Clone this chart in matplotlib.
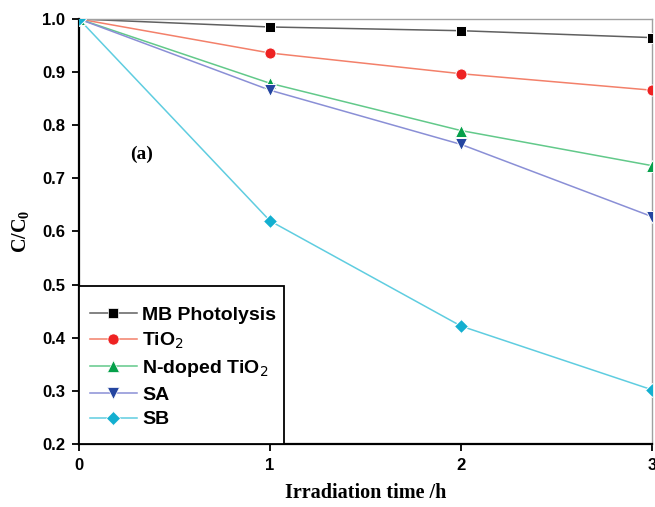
import matplotlib
matplotlib.use("Agg")
import matplotlib.pyplot as plt
from matplotlib.lines import Line2D
from matplotlib.patches import Rectangle

# Irradiation time (h) and normalised concentration C/C0
time_h = [0, 1, 2, 3]
mb_photolysis = [1.0, 0.985, 0.978, 0.965]
tio2 = [1.0, 0.936, 0.897, 0.866]
n_doped_tio2 = [1.0, 0.879, 0.790, 0.724]
sa = [1.0, 0.866, 0.764, 0.628]
sb = [1.0, 0.620, 0.422, 0.302]

x_ticks = [0, 1, 2, 3]
y_ticks = [0.2, 0.3, 0.4, 0.5, 0.6, 0.7, 0.8, 0.9, 1.0]

series = [
    ("MB Photolysis", mb_photolysis, "#606060", "#000000", "s", 7),
    ("TiO$_2$", tio2, "#f3806a", "#ee2222", "o", 8),
    ("N-doped TiO$_2$", n_doped_tio2, "#62c98a", "#05a04a", "^", 8.5),
    ("SA", sa, "#8a8fd6", "#2445a0", "v", 8.5),
    ("SB", sb, "#5fcde0", "#13afd0", "D", 7),
]

fig = plt.figure(figsize=(6.55, 5.07), dpi=100)
ax = fig.add_axes([0.1206, 0.1243, 0.8748, 0.8382])

handles = []
for label, vals, lc, mc, mk, ms in series:
    ax.plot(time_h, vals, color=lc, lw=1.1, zorder=2)
    ax.plot(time_h, vals, ls="none", marker=mk, ms=ms, color=mc,
            markeredgecolor="white", markeredgewidth=0.7, zorder=3)
    handles.append(Line2D([0], [0], color=lc, lw=1.1, marker=mk, ms=ms,
                          markerfacecolor=mc, markeredgecolor="white",
                          markeredgewidth=0.5, label=label))

ax.set_xlim(0, 3)
ax.set_ylim(0.2, 1.0)
ax.set_xticks(x_ticks)
ax.set_xticklabels([str(t) for t in x_ticks])
ax.set_yticks(y_ticks)
ax.set_yticklabels([f"{v:.1f}" for v in y_ticks])

for lbl in ax.get_xticklabels() + ax.get_yticklabels():
    lbl.set_fontfamily("Liberation Sans")
    lbl.set_fontweight("bold")
    lbl.set_fontsize(12)

ax.tick_params(direction="out", length=5, width=1.3, pad=5)
ax.spines["left"].set_linewidth(1.6)
ax.spines["bottom"].set_linewidth(1.6)
for s in ("top", "right"):
    ax.spines[s].set_color("#a0a0a0")
    ax.spines[s].set_linewidth(1.0)

ax.set_xlabel("Irradiation time /h", fontfamily="Liberation Serif",
              fontweight="bold", fontsize=14.5, labelpad=7)
ax.set_ylabel("C/C$_\\mathregular{0}$", fontfamily="Liberation Serif",
              fontweight="bold", fontsize=14.5, labelpad=7)

ax.text(0.27, 0.745, "(a)", fontfamily="Liberation Serif", fontweight="bold",
        fontsize=14, ha="left", va="center")

# Legend box frame, anchored at the lower-left corner of the axes
ax.add_patch(Rectangle((0, 0), 0.358, 0.372, transform=ax.transAxes,
                       facecolor="white", edgecolor="black", lw=1.3,
                       zorder=4, clip_on=False))

leg = ax.legend(handles=handles, loc="upper left", bbox_to_anchor=(0.019, 0.324),
                borderaxespad=0, borderpad=0, frameon=False,
                prop={"family": "Liberation Sans", "weight": "bold", "size": 14},
                handlelength=2.4, handletextpad=0.3, labelspacing=0.36)
leg.set_zorder(5)

fig.savefig("out.png", dpi=100)
